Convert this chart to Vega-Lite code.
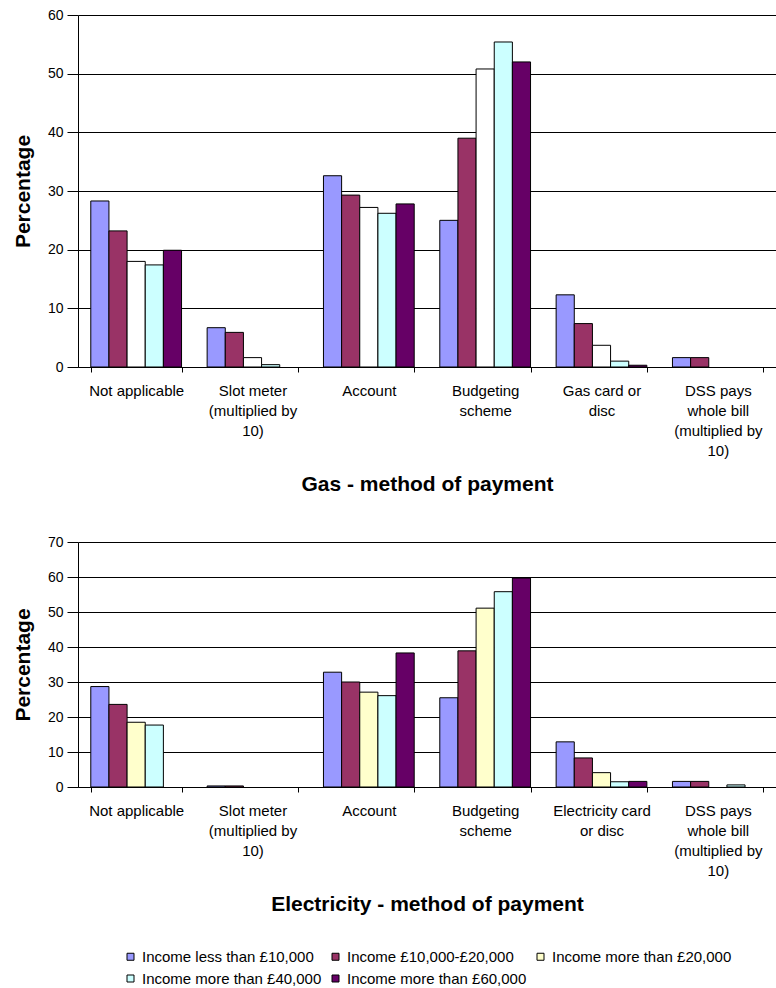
{
  "$schema": "https://vega.github.io/schema/vega-lite/v6.json",
  "padding": {"left": 12, "top": 8, "right": 0, "bottom": 5},
  "config": {
    "font": "Liberation Sans",
    "view": {"stroke": null},
    "axis": {
      "domainColor": "#000000",
      "tickColor": "#000000",
      "gridColor": "#000000",
      "gridOpacity": 1,
      "labelColor": "#000000",
      "titleColor": "#000000",
      "labelFont": "Liberation Sans",
      "titleFont": "Liberation Sans"
    },
    "legend": {"labelFont": "Liberation Sans", "labelColor": "#000000"}
  },
  "datasets": {
    "gas": [
      {"method": "Not applicable", "income": "Income less than £10,000", "pct": 28.3},
      {"method": "Not applicable", "income": "Income £10,000-£20,000", "pct": 23.2},
      {"method": "Not applicable", "income": "Income more than £20,000", "pct": 18.0},
      {"method": "Not applicable", "income": "Income more than £40,000", "pct": 17.4},
      {"method": "Not applicable", "income": "Income more than £60,000", "pct": 19.9},
      {"method": "Slot meter (multiplied by 10)", "income": "Income less than £10,000", "pct": 6.7},
      {"method": "Slot meter (multiplied by 10)", "income": "Income £10,000-£20,000", "pct": 5.9},
      {"method": "Slot meter (multiplied by 10)", "income": "Income more than £20,000", "pct": 1.6},
      {"method": "Slot meter (multiplied by 10)", "income": "Income more than £40,000", "pct": 0.4},
      {"method": "Account", "income": "Income less than £10,000", "pct": 32.6},
      {"method": "Account", "income": "Income £10,000-£20,000", "pct": 29.3},
      {"method": "Account", "income": "Income more than £20,000", "pct": 27.2},
      {"method": "Account", "income": "Income more than £40,000", "pct": 26.2},
      {"method": "Account", "income": "Income more than £60,000", "pct": 27.8},
      {"method": "Budgeting scheme", "income": "Income less than £10,000", "pct": 25.0},
      {"method": "Budgeting scheme", "income": "Income £10,000-£20,000", "pct": 39.0},
      {"method": "Budgeting scheme", "income": "Income more than £20,000", "pct": 50.8},
      {"method": "Budgeting scheme", "income": "Income more than £40,000", "pct": 55.4},
      {"method": "Budgeting scheme", "income": "Income more than £60,000", "pct": 52.0},
      {"method": "Gas card or disc", "income": "Income less than £10,000", "pct": 12.3},
      {"method": "Gas card or disc", "income": "Income £10,000-£20,000", "pct": 7.4},
      {"method": "Gas card or disc", "income": "Income more than £20,000", "pct": 3.7},
      {"method": "Gas card or disc", "income": "Income more than £40,000", "pct": 1.0},
      {"method": "Gas card or disc", "income": "Income more than £60,000", "pct": 0.3},
      {"method": "DSS pays whole bill (multiplied by 10)", "income": "Income less than £10,000", "pct": 1.6},
      {"method": "DSS pays whole bill (multiplied by 10)", "income": "Income £10,000-£20,000", "pct": 1.6}
    ],
    "electricity": [
      {"method": "Not applicable", "income": "Income less than £10,000", "pct": 28.7},
      {"method": "Not applicable", "income": "Income £10,000-£20,000", "pct": 23.6},
      {"method": "Not applicable", "income": "Income more than £20,000", "pct": 18.5},
      {"method": "Not applicable", "income": "Income more than £40,000", "pct": 17.7},
      {"method": "Slot meter (multiplied by 10)", "income": "Income less than £10,000", "pct": 0.3},
      {"method": "Slot meter (multiplied by 10)", "income": "Income £10,000-£20,000", "pct": 0.3},
      {"method": "Account", "income": "Income less than £10,000", "pct": 32.8},
      {"method": "Account", "income": "Income £10,000-£20,000", "pct": 30.0},
      {"method": "Account", "income": "Income more than £20,000", "pct": 27.1},
      {"method": "Account", "income": "Income more than £40,000", "pct": 26.1},
      {"method": "Account", "income": "Income more than £60,000", "pct": 38.3},
      {"method": "Budgeting scheme", "income": "Income less than £10,000", "pct": 25.5},
      {"method": "Budgeting scheme", "income": "Income £10,000-£20,000", "pct": 38.9},
      {"method": "Budgeting scheme", "income": "Income more than £20,000", "pct": 51.1},
      {"method": "Budgeting scheme", "income": "Income more than £40,000", "pct": 55.8},
      {"method": "Budgeting scheme", "income": "Income more than £60,000", "pct": 59.7},
      {"method": "Electricity card or disc", "income": "Income less than £10,000", "pct": 12.9},
      {"method": "Electricity card or disc", "income": "Income £10,000-£20,000", "pct": 8.3},
      {"method": "Electricity card or disc", "income": "Income more than £20,000", "pct": 4.1},
      {"method": "Electricity card or disc", "income": "Income more than £40,000", "pct": 1.5},
      {"method": "Electricity card or disc", "income": "Income more than £60,000", "pct": 1.6},
      {"method": "DSS pays whole bill (multiplied by 10)", "income": "Income less than £10,000", "pct": 1.6},
      {"method": "DSS pays whole bill (multiplied by 10)", "income": "Income £10,000-£20,000", "pct": 1.6},
      {"method": "DSS pays whole bill (multiplied by 10)", "income": "Income more than £40,000", "pct": 0.6}
    ]
  },
  "spacing": 41,
  "resolve": {"scale": {"color": "independent"}},
  "vconcat": [
    {
      "width": 698,
      "height": 352,
      "data": {"name": "gas"},
      "mark": {"type": "bar", "stroke": "#000000", "strokeWidth": 1},
      "encoding": {
        "x": {
          "field": "method",
          "type": "nominal",
          "sort": ["Not applicable", "Slot meter (multiplied by 10)", "Account", "Budgeting scheme", "Gas card or disc", "DSS pays whole bill (multiplied by 10)"],
          "scale": {"paddingInner": 0.22, "paddingOuter": 0.11},
          "axis": {
            "title": "Gas - method of payment",
            "titleFontSize": 21,
            "titleFontWeight": "bold",
            "titlePadding": 15,
            "labelAngle": 0,
            "labelFontSize": 15,
            "labelLineHeight": 20,
            "labelPadding": 11,
            "labelLimit": 0,
            "tickSize": 5,
            "tickBand": "extent",
            "grid": false,
            "labelExpr": "datum.value == 'Slot meter (multiplied by 10)' ? ['Slot meter', '(multiplied by', '10)'] : datum.value == 'Budgeting scheme' ? ['Budgeting', 'scheme'] : datum.value == 'Gas card or disc' ? ['Gas card or', 'disc'] : datum.value == 'DSS pays whole bill (multiplied by 10)' ? ['DSS pays', 'whole bill', '(multiplied by', '10)'] : datum.value"
          }
        },
        "xOffset": {
          "field": "income",
          "type": "nominal",
          "scale": {"domain": ["Income less than £10,000", "Income £10,000-£20,000", "Income more than £20,000", "Income more than £40,000", "Income more than £60,000"]}
        },
        "y": {
          "field": "pct",
          "type": "quantitative",
          "scale": {"domain": [0, 60], "nice": false},
          "axis": {
            "title": "Percentage",
            "titleFontSize": 21,
            "titleFontWeight": "bold",
            "titlePadding": 14,
            "values": [0, 10, 20, 30, 40, 50, 60],
            "labelFontSize": 14,
            "labelPadding": 4,
            "tickSize": 11,
            "grid": true
          }
        },
        "color": {
          "field": "income",
          "type": "nominal",
          "scale": {
            "domain": ["Income less than £10,000", "Income £10,000-£20,000", "Income more than £20,000", "Income more than £40,000", "Income more than £60,000"],
            "range": ["#9999FF", "#993366", "#FFFFFF", "#CCFFFF", "#660066"]
          },
          "legend": null
        }
      }
    },
    {
      "width": 698,
      "height": 245,
      "data": {"name": "electricity"},
      "mark": {"type": "bar", "stroke": "#000000", "strokeWidth": 1},
      "encoding": {
        "x": {
          "field": "method",
          "type": "nominal",
          "sort": ["Not applicable", "Slot meter (multiplied by 10)", "Account", "Budgeting scheme", "Electricity card or disc", "DSS pays whole bill (multiplied by 10)"],
          "scale": {"paddingInner": 0.22, "paddingOuter": 0.11},
          "axis": {
            "title": "Electricity - method of payment",
            "titleFontSize": 21,
            "titleFontWeight": "bold",
            "titlePadding": 15,
            "labelAngle": 0,
            "labelFontSize": 15,
            "labelLineHeight": 20,
            "labelPadding": 11,
            "labelLimit": 0,
            "tickSize": 5,
            "tickBand": "extent",
            "grid": false,
            "labelExpr": "datum.value == 'Slot meter (multiplied by 10)' ? ['Slot meter', '(multiplied by', '10)'] : datum.value == 'Budgeting scheme' ? ['Budgeting', 'scheme'] : datum.value == 'Electricity card or disc' ? ['Electricity card', 'or disc'] : datum.value == 'DSS pays whole bill (multiplied by 10)' ? ['DSS pays', 'whole bill', '(multiplied by', '10)'] : datum.value"
          }
        },
        "xOffset": {
          "field": "income",
          "type": "nominal",
          "scale": {"domain": ["Income less than £10,000", "Income £10,000-£20,000", "Income more than £20,000", "Income more than £40,000", "Income more than £60,000"]}
        },
        "y": {
          "field": "pct",
          "type": "quantitative",
          "scale": {"domain": [0, 70], "nice": false},
          "axis": {
            "title": "Percentage",
            "titleFontSize": 21,
            "titleFontWeight": "bold",
            "titlePadding": 14,
            "values": [0, 10, 20, 30, 40, 50, 60, 70],
            "labelFontSize": 14,
            "labelPadding": 4,
            "tickSize": 11,
            "grid": true
          }
        },
        "color": {
          "field": "income",
          "type": "nominal",
          "scale": {
            "domain": ["Income less than £10,000", "Income £10,000-£20,000", "Income more than £20,000", "Income more than £40,000", "Income more than £60,000"],
            "range": ["#9999FF", "#993366", "#FFFFCC", "#CCFFFF", "#660066"]
          },
          "legend": {
            "title": null,
            "orient": "none",
            "legendX": 45,
            "legendY": 407,
            "direction": "horizontal",
            "columns": 3,
            "columnPadding": 6,
            "rowPadding": 6,
            "symbolType": "square",
            "symbolSize": 49,
            "symbolStrokeColor": "#000000",
            "symbolStrokeWidth": 1,
            "symbolOpacity": 1,
            "labelFontSize": 15,
            "labelLimit": 0,
            "labelOffset": 4
          }
        }
      }
    }
  ]
}
